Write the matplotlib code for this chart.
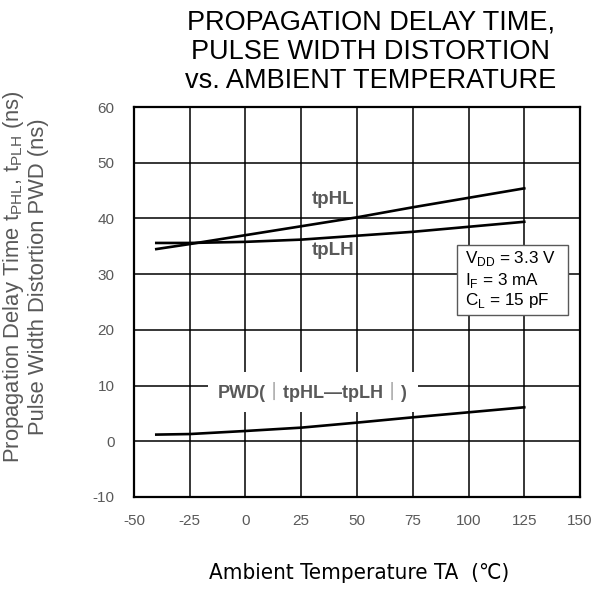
import matplotlib
matplotlib.use("Agg")
import matplotlib.pyplot as plt
from matplotlib.patches import Rectangle

# data
temp = [-40, -25, 0, 25, 50, 75, 100, 125]
tphl = [34.5, 35.4, 37.0, 38.6, 40.2, 42.0, 43.7, 45.4]
tplh = [35.6, 35.6, 35.8, 36.2, 36.9, 37.6, 38.5, 39.4]
pwd = [1.2, 1.3, 1.85, 2.45, 3.35, 4.3, 5.2, 6.1]

xticks = [-50, -25, 0, 25, 50, 75, 100, 125, 150]
yticks = [-10, 0, 10, 20, 30, 40, 50, 60]

gray = "#595959"

def main():
    plt.rcParams['font.family'] = ['Liberation Sans', 'DejaVu Sans']
    plt.rcParams['axes.unicode_minus'] = False
    fig = plt.figure(figsize=(5.95, 5.89), dpi=100)
    ax = fig.add_axes([0.2252, 0.1562, 0.7496, 0.6621])

    ax.plot(temp, tphl, color='black', lw=1.9)
    ax.plot(temp, tplh, color='black', lw=1.9)
    ax.plot(temp, pwd, color='black', lw=1.9)

    ax.set_xlim(-50, 150)
    ax.set_ylim(-10, 60)
    ax.set_xticks(xticks)
    ax.set_yticks(yticks)
    ax.grid(True, color='black', lw=1.1)
    ax.set_axisbelow(True)
    for s in ax.spines.values():
        s.set_linewidth(1.6)
    ax.tick_params(length=0, labelsize=11, labelcolor=gray)
    ax.tick_params(axis='y', pad=14)
    ax.tick_params(axis='x', pad=12)

    # curve labels
    ax.text(0.399, 0.762, "tpHL", transform=ax.transAxes, fontsize=13.5,
            fontweight='bold', color=gray, va='center')
    ax.text(0.399, 0.633, "tpLH", transform=ax.transAxes, fontsize=13.5,
            fontweight='bold', color=gray, va='center')
    ax.text(0.401, 0.269, "PWD(\uff5ctpHL\u2014tpLH\uff5c)", transform=ax.transAxes,
            fontsize=13, fontweight='bold', color=gray, ha='center', va='center',
            family=['Liberation Sans', 'Noto Sans CJK JP', 'DejaVu Sans'],
            bbox=dict(facecolor='white', edgecolor='none', pad=7))

    # conditions box
    ax.add_patch(Rectangle((0.724, 0.467), 0.249, 0.179, transform=ax.transAxes,
                           facecolor='white', edgecolor=gray, lw=1.0, zorder=3))
    conds = ["V$_\\mathregular{DD}$ = 3.3 V", "I$_\\mathregular{F}$ = 3 mA",
             "C$_\\mathregular{L}$ = 15 pF"]
    for yy, c in zip([0.612, 0.556, 0.505], conds):
        ax.text(0.742, yy, c, transform=ax.transAxes, fontsize=12.3,
                va='center', zorder=4)

    # title
    fig.text(0.623, 0.962, "PROPAGATION DELAY TIME,", ha='center', va='center', fontsize=19.5)
    fig.text(0.623, 0.912, "PULSE WIDTH DISTORTION", ha='center', va='center', fontsize=19.5)
    fig.text(0.623, 0.862, "vs. AMBIENT TEMPERATURE", ha='center', va='center', fontsize=19.5)

    # axis labels
    fig.text(0.603, 0.028, "Ambient Temperature TA  (\u2103)", ha='center', va='center',
             fontsize=16, fontstretch='condensed',
             family=['DejaVu Sans', 'Noto Sans CJK JP'])
    fig.text(0.022, 0.53, "Propagation Delay Time t$_\\mathregular{PHL}$, t$_\\mathregular{PLH}$ (ns)",
             rotation=90, ha='center', va='center', fontsize=15.8, color=gray)
    fig.text(0.064, 0.53, "Pulse Width Distortion PWD (ns)",
             rotation=90, ha='center', va='center', fontsize=15.8, color=gray)

    fig.savefig("out.png", dpi=100)

if __name__ == "__main__":
    main()
